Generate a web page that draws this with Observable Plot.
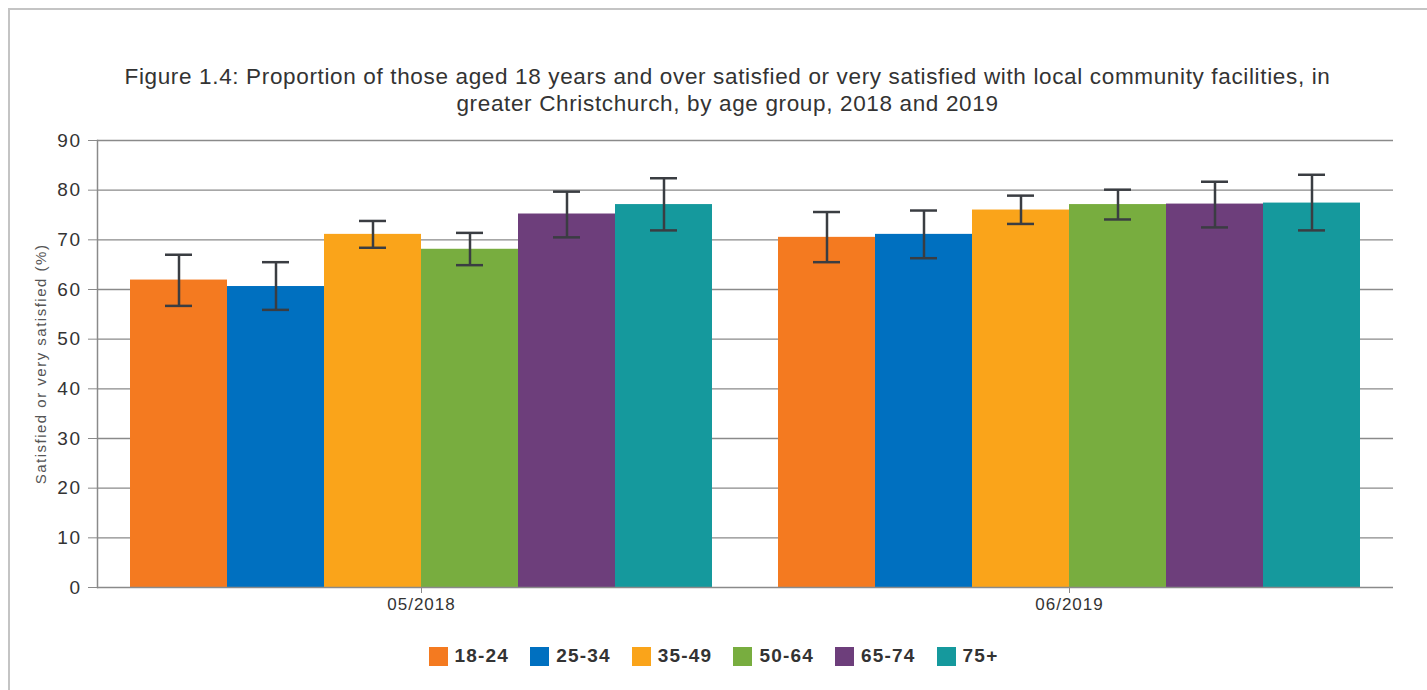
<!DOCTYPE html>
<html>
<head>
<meta charset="utf-8">
<script src="https://cdn.jsdelivr.net/npm/d3@7"></script>
<script src="https://cdn.jsdelivr.net/npm/@observablehq/plot@0.6"></script>
<style>
  html, body { margin: 0; padding: 0; background: #fff; }
  body { width: 1427px; height: 690px; position: relative; overflow: hidden; font-family: "Liberation Sans", Arial, sans-serif; }
  #frame { position: absolute; left: 8px; top: 8px; right: -10px; bottom: -10px; border-top: 2px solid #c4c4c4; border-left: 2px solid #c4c4c4; }
  #title { position: absolute; left: 14px; width: 1427px; top: 63px; text-align: center; font-size: 22.5px; letter-spacing: 0.65px; line-height: 27px; color: #333; }
  #chart { position: absolute; left: 0; top: 120px; }
  #legend { position: absolute; left: 0; width: 1427px; top: 645px; display: flex; justify-content: center; gap: 21px; font-size: 19px; letter-spacing: 1.2px; font-weight: bold; color: #333; }
  .item { display: flex; align-items: center; gap: 7px; height: 22px; }
  .sw { width: 19px; height: 19px; }
  #chart g[aria-label="y-axis tick label"] text { letter-spacing: 1.5px; }
  #chart g[aria-label="fx-axis tick label"] text { letter-spacing: 1px; }
  #chart g[aria-label="y-axis label"] text { letter-spacing: 1.5px; font-size: 15px; fill: #555; }
</style>
</head>
<body>
<div id="frame"></div>
<div id="title">Figure 1.4: Proportion of those aged 18 years and over satisfied or very satisfied with local community facilities, in<br>greater Christchurch, by age group, 2018 and 2019</div>
<div id="chart"></div>
<div id="legend"></div>
<script>
const ages = ["18-24", "25-34", "35-49", "50-64", "65-74", "75+"];
const periods = ["05/2018", "06/2019"];
const colors = ["#F47A20", "#0070C0", "#FAA41A", "#78AD3F", "#6D3E7B", "#15999D"];
const values2018 = [61.9, 60.6, 71.1, 68.1, 75.2, 77.1];
const low2018 = [56.7, 55.9, 68.4, 64.9, 70.5, 71.9];
const high2018 = [67.0, 65.5, 73.8, 71.4, 79.7, 82.4];
const values2019 = [70.5, 71.1, 76.0, 77.1, 77.2, 77.4];
const low2019 = [65.5, 66.3, 73.2, 74.1, 72.5, 71.9];
const high2019 = [75.6, 75.9, 78.9, 80.1, 81.7, 83.1];
const yTicks = [0, 10, 20, 30, 40, 50, 60, 70, 80, 90];

const rows = [];
ages.forEach((a, i) => {
  rows.push({period: periods[0], age: a, value: values2018[i], low: low2018[i], high: high2018[i]});
});
ages.forEach((a, i) => {
  rows.push({period: periods[1], age: a, value: values2019[i], low: low2019[i], high: high2019[i]});
});

const chart = Plot.plot({
  width: 1427,
  height: 507,
  marginTop: 20,
  marginBottom: 40,
  marginLeft: 97,
  marginRight: 34,
  style: {fontFamily: '"Liberation Sans", Arial, sans-serif', background: "transparent", overflow: "visible"},
  fx: {domain: periods, padding: 0, label: null},
  x: {domain: ages, paddingInner: 0, paddingOuter: 0.34, axis: null},
  y: {domain: [0, 90], label: null},
  color: {domain: ages, range: colors},
  marks: [
    Plot.ruleY(yTicks.filter(d => d > 0), {stroke: "#8a8a8a", strokeWidth: 1.3}),
    Plot.barY(rows, {fx: "period", x: "age", y: "value", fill: "age"}),
    Plot.ruleX(rows, {fx: "period", x: "age", y1: "low", y2: "high", stroke: "#3a3d42", strokeWidth: 2.5}),
    Plot.tickY(rows, {fx: "period", x: "age", y: "low", stroke: "#3a3d42", strokeWidth: 2.5, insetLeft: 35, insetRight: 35}),
    Plot.tickY(rows, {fx: "period", x: "age", y: "high", stroke: "#3a3d42", strokeWidth: 2.5, insetLeft: 35, insetRight: 35}),
    Plot.ruleY([0], {stroke: "#8a8a8a", strokeWidth: 1.5}),
    Plot.frame({facetAnchor: "left", anchor: "left", stroke: "#8a8a8a", strokeWidth: 1.5}),
    Plot.axisY({ticks: yTicks, tickSize: 9, tickPadding: 7, fontSize: 19, color: "#333", stroke: "#8a8a8a", label: "Satisfied or very satisfied (%)", labelAnchor: "center", labelArrow: "none", labelOffset: 62}),
    Plot.axisFx({anchor: "bottom", tickSize: 6, tickPadding: 4, fontSize: 17, color: "#333", stroke: "#8a8a8a", label: null})
  ]
});
document.getElementById("chart").appendChild(chart);

const legend = document.getElementById("legend");
ages.forEach((a, i) => {
  const it = document.createElement("div");
  it.className = "item";
  const sw = document.createElement("div");
  sw.className = "sw";
  sw.style.background = colors[i];
  const tx = document.createElement("span");
  tx.textContent = a;
  it.appendChild(sw);
  it.appendChild(tx);
  legend.appendChild(it);
});
</script>
</body>
</html>
